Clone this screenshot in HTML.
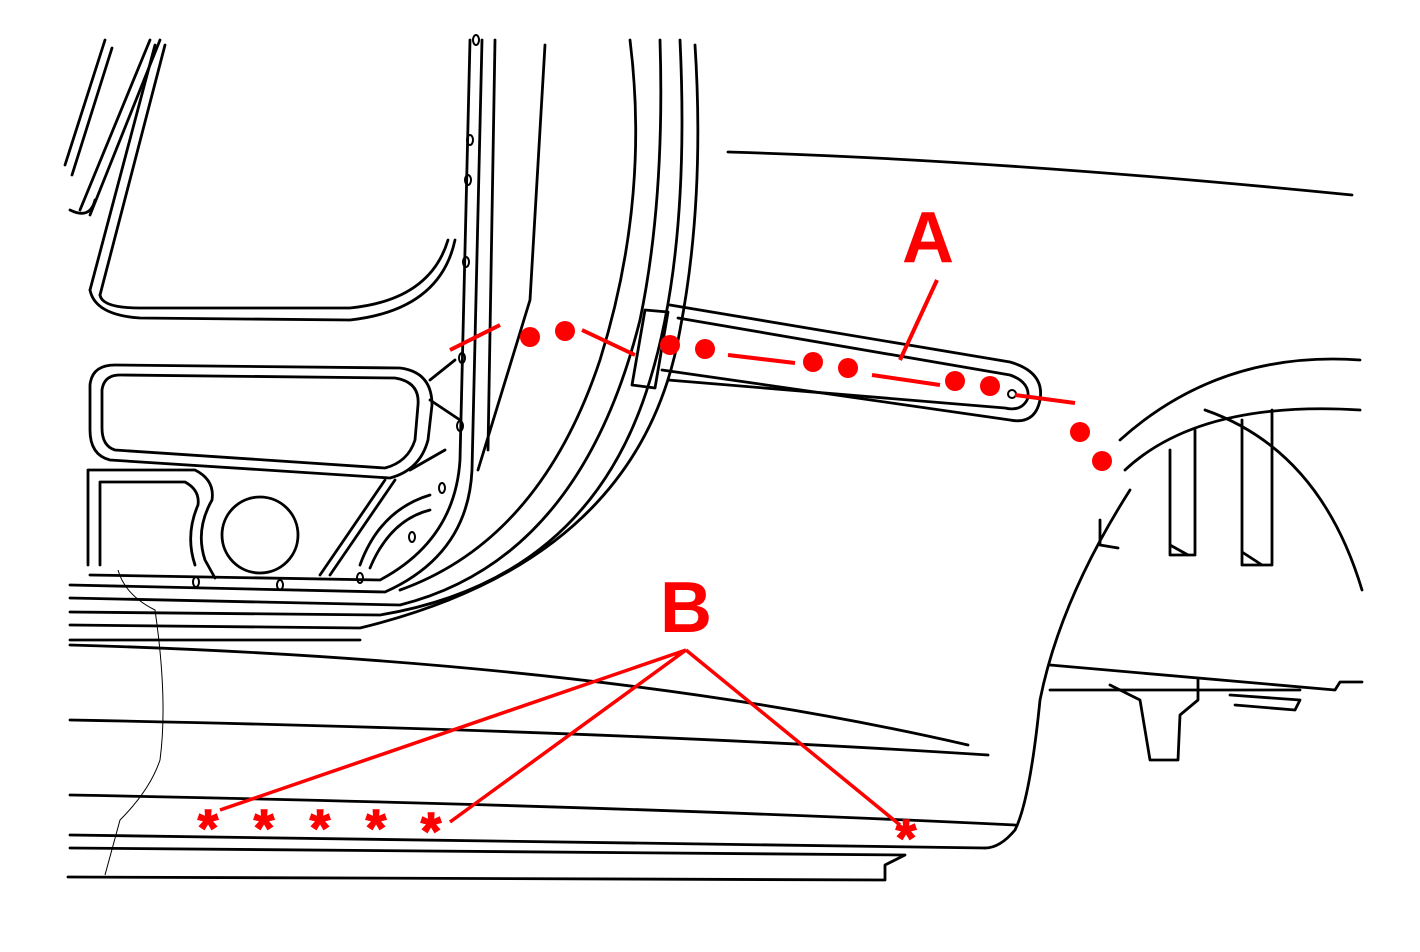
<!DOCTYPE html>
<html><head><meta charset="utf-8"><style>html,body{margin:0;padding:0;background:#fff}svg{display:block}</style></head>
<body>
<svg width="1420" height="952" viewBox="0 0 1420 952" xmlns="http://www.w3.org/2000/svg">
<g fill="none" stroke="#000" stroke-width="2.8" stroke-linejoin="round" stroke-linecap="round">
<path d="M65,165 L105,40 M72,175 L112,48 M80,210 L150,40 M90,215 L160,40"/>
<path d="M70,210 Q90,220 95,200"/>
<path d="M90,290 L155,45 M100,295 L165,45"/>
<path d="M90,290 Q95,315 140,318 L350,320 Q440,310 455,240"/>
<path d="M100,295 Q102,308 140,308 L350,308 Q430,300 448,240"/>
<path d="M90,385 Q92,365 115,365 L400,368 Q432,372 432,405 L428,440 Q420,470 390,478 L110,460 Q90,455 90,430 Z"/>
<path d="M102,390 Q104,375 120,375 L395,378 Q420,382 418,405 L415,440 Q408,462 385,468 L115,450 Q102,446 102,428 Z"/>
<path d="M88,565 L88,470 L195,470 Q215,480 212,500 Q195,530 205,560 L215,578"/>
<path d="M100,565 L100,482 L185,482 Q200,490 198,505 Q185,535 195,565"/>
<circle cx="260" cy="535" r="38"/>
<path d="M320,575 L385,480 M330,575 L395,480 M360,565 Q380,510 430,495 M370,568 Q390,520 430,510"/>
<path d="M430,380 L455,360 M430,400 L460,420 M410,470 L445,450"/>
<path d="M470,40 L460,460 Q455,540 380,580 L90,575"/>
<path d="M482,40 L472,470 Q468,555 385,592 L70,585"/>
<path d="M495,40 L488,450 M545,45 L530,300 L478,470"/>
<path d="M660,40 Q665,200 640,320 Q580,560 400,605 L70,598"/>
<path d="M680,40 Q690,250 650,380 Q590,580 380,615 L70,612"/>
<path d="M695,45 Q705,200 680,330 Q640,560 360,628 L70,625"/>
<path d="M630,40 Q650,200 600,360 Q540,540 400,590"/>
<path d="M70,640 L360,640"/>
<g stroke-width="2"><ellipse cx="476" cy="40" rx="3" ry="5"/><ellipse cx="470" cy="140" rx="3" ry="5"/><ellipse cx="468" cy="180" rx="3" ry="5"/><ellipse cx="466" cy="262" rx="3" ry="5"/><ellipse cx="462" cy="358" rx="3" ry="5"/><ellipse cx="460" cy="426" rx="3" ry="5"/><ellipse cx="442" cy="488" rx="3" ry="5"/><ellipse cx="412" cy="537" rx="3" ry="5"/><ellipse cx="360" cy="578" rx="3" ry="5"/><ellipse cx="280" cy="585" rx="3" ry="5"/><ellipse cx="196" cy="582" rx="3" ry="5"/><circle cx="1012" cy="394" r="4"/></g>
<path d="M645,310 L632,385 L655,388 L668,312 Z"/>
<path d="M670,305 L1010,362 Q1045,372 1040,400 Q1035,425 1010,420 L662,370"/>
<path d="M678,318 L1010,375 Q1030,382 1028,398 Q1022,412 1005,408 L668,380"/>
<path d="M728,152 Q1000,160 1352,195"/>
<path d="M1120,440 Q1220,350 1360,360"/>
<path d="M1125,470 Q1200,400 1360,410"/>
<path d="M1130,490 Q1060,600 1040,700 Q1030,800 1015,830 Q1000,848 985,848"/>
<path d="M1205,410 Q1320,450 1362,590"/>
<path d="M1170,450 L1170,555 L1195,555 L1195,430 M1170,545 L1188,555"/>
<path d="M1242,420 L1242,565 L1272,565 L1272,410 M1242,552 L1262,565"/>
<path d="M1100,520 L1100,545 L1118,548"/>
<path d="M1050,665 L1335,690 L1340,682 L1362,682 M1050,690 L1300,690"/>
<path d="M1110,685 L1140,700 L1150,760 L1178,760 L1180,715 L1198,700 L1198,680"/>
<path d="M1230,695 L1300,700 L1295,710 L1235,705"/>
<path d="M70,645 Q600,660 968,745"/>
<path d="M70,720 Q600,730 988,755"/>
<path d="M70,795 Q600,805 1015,825"/>
<path d="M70,835 L985,848"/>
<path d="M70,848 L905,855 L885,865 L885,880 M68,877 L885,880"/>
</g>
<path d="M118,570 Q125,595 155,610 Q168,700 160,760 Q150,790 120,820 L105,875" fill="none" stroke="#000" stroke-width="1"/>
<g stroke="#f00" stroke-width="4" fill="none" stroke-linecap="butt">
<path d="M450,350 L500,325 M582,330 L635,355 M728,355 L795,363 M872,375 L940,385 M1015,395 L1075,403"/>
<path d="M937,280 L900,360"/>
<path d="M686,650 L220,810 M686,650 L450,822 M686,650 L900,825" stroke-width="3.5"/>
</g>
<g fill="#f00"><circle cx="530" cy="337" r="10"/><circle cx="565" cy="331" r="10"/><circle cx="670" cy="345" r="10"/><circle cx="705" cy="349" r="10"/><circle cx="813" cy="362" r="10"/><circle cx="848" cy="368" r="10"/><circle cx="955" cy="381" r="10"/><circle cx="990" cy="386" r="10"/><circle cx="1080" cy="432" r="10"/><circle cx="1102" cy="461" r="10"/></g>
<g fill="#f00" font-family="Liberation Sans, sans-serif" font-weight="bold">
<text x="928" y="262" font-size="72" text-anchor="middle">A</text>
<text x="686" y="632" font-size="72" text-anchor="middle">B</text>
<g font-size="52" text-anchor="middle" stroke="#f00" stroke-width="1.5"><text x="208" y="846">*</text><text x="264" y="846">*</text><text x="320" y="846">*</text><text x="376" y="846">*</text><text x="431" y="849">*</text><text x="906" y="856">*</text></g>
</g>
</svg>
</body></html>
